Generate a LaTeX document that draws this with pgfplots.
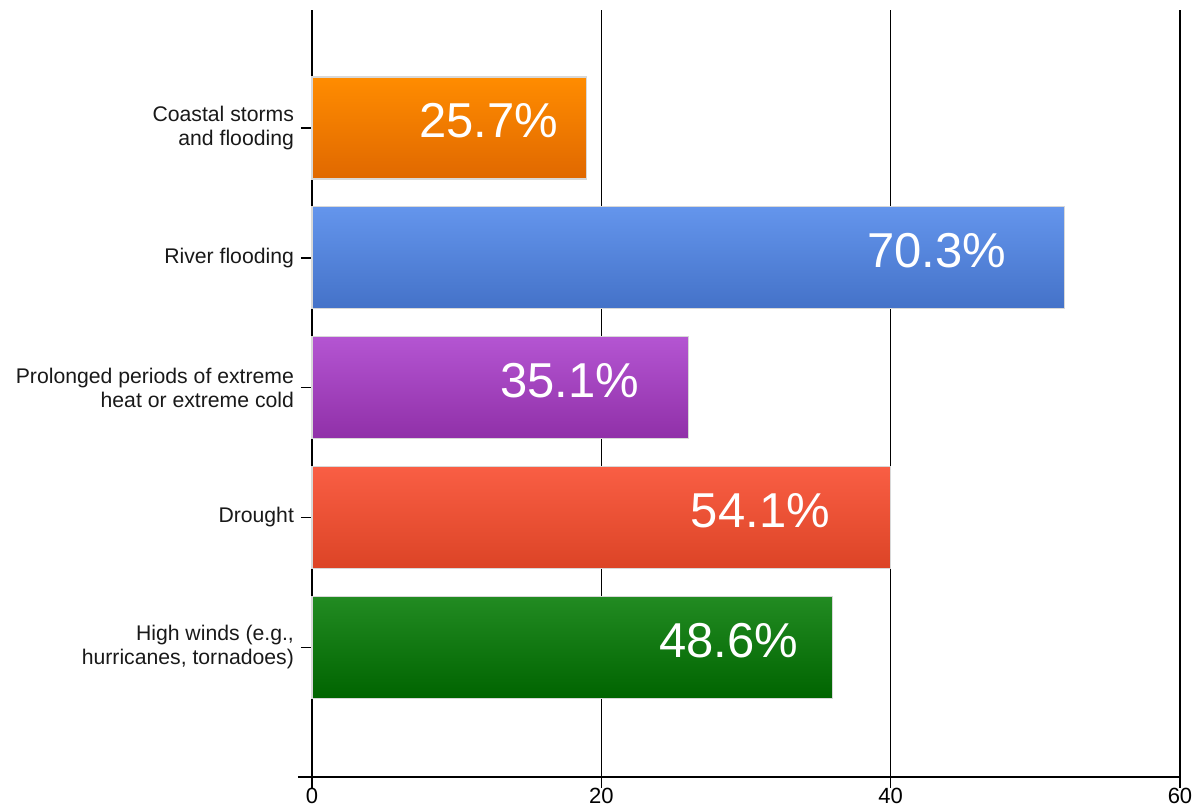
\documentclass[border=0pt]{standalone}
\usepackage{fontspec}
\setmainfont{Liberation Sans}
\usepackage{pgfplots}
\pgfplotsset{compat=1.18}

\definecolor{orangetop}{HTML}{FF8C00}
\definecolor{orangebot}{HTML}{E06800}
\definecolor{bluetop}{HTML}{6495EC}
\definecolor{bluebot}{HTML}{4472C8}
\definecolor{purpletop}{HTML}{B455D2}
\definecolor{purplebot}{HTML}{9030A8}
\definecolor{redtop}{HTML}{F95E44}
\definecolor{redbot}{HTML}{DC4426}
\definecolor{greentop}{HTML}{228B22}
\definecolor{greenbot}{HTML}{006400}
\definecolor{barborder}{HTML}{D8D8D8}

\begin{document}
\begin{tikzpicture}
\path[use as bounding box] (-156pt,-17.5pt) rectangle (441pt,388.5pt);
\begin{axis}[
    at={(0,0)}, anchor=south west,
    scale only axis,
    width=434pt, height=383.5pt,
    xmin=0, xmax=60,
    ymin=0, ymax=5.91,
    axis x line=bottom, axis y line=left,
    axis line style={-, line width=0.8pt},
    xtick={0,20,40,60},
    ytick={1,2,3,4,5},
    yticklabels={{High winds (e.g.,\\hurricanes, tornadoes)},
                 {Drought},
                 {Prolonged periods of extreme\\heat or extreme cold},
                 {River flooding},
                 {Coastal storms\\and flooding}},
    yticklabel style={align=right, font=\fontsize{10.6}{12}\selectfont, text=black!90},
    xticklabel style={font=\fontsize{11}{13}\selectfont, inner sep=1pt, yshift=1pt},
    /pgf/number format/assume math mode=true,
    xmajorgrids,
    major grid style={black, line width=0.7pt},
    tick align=outside,
    major tick length=5.5pt,
    tick style={black, line width=0.7pt},
    clip=false,
    bar width=51pt,
    every axis plot/.append style={xbar, bar shift=0pt, draw=barborder, line width=0.6pt},
]
\addplot[top color=orangetop, bottom color=orangebot] coordinates {(19,5)};
\addplot[top color=bluetop, bottom color=bluebot] coordinates {(52,4)};
\addplot[top color=purpletop, bottom color=purplebot] coordinates {(26,3)};
\addplot[top color=redtop, bottom color=redbot] coordinates {(40,2)};
\addplot[top color=greentop, bottom color=greenbot] coordinates {(36,1)};

\draw[line width=0.8pt] (axis cs:-0.97,0) -- (axis cs:0,0);

\begin{scope}[every node/.style={text=white, font=\fontsize{24.5}{28}\selectfont, yshift=3.5pt}]
\node at (axis cs:12.2,5) {25.7\%};
\node at (axis cs:43.2,4) {70.3\%};
\node at (axis cs:17.8,3) {35.1\%};
\node at (axis cs:31.0,2) {54.1\%};
\node at (axis cs:28.8,1) {48.6\%};
\end{scope}
\end{axis}
\end{tikzpicture}
\end{document}
